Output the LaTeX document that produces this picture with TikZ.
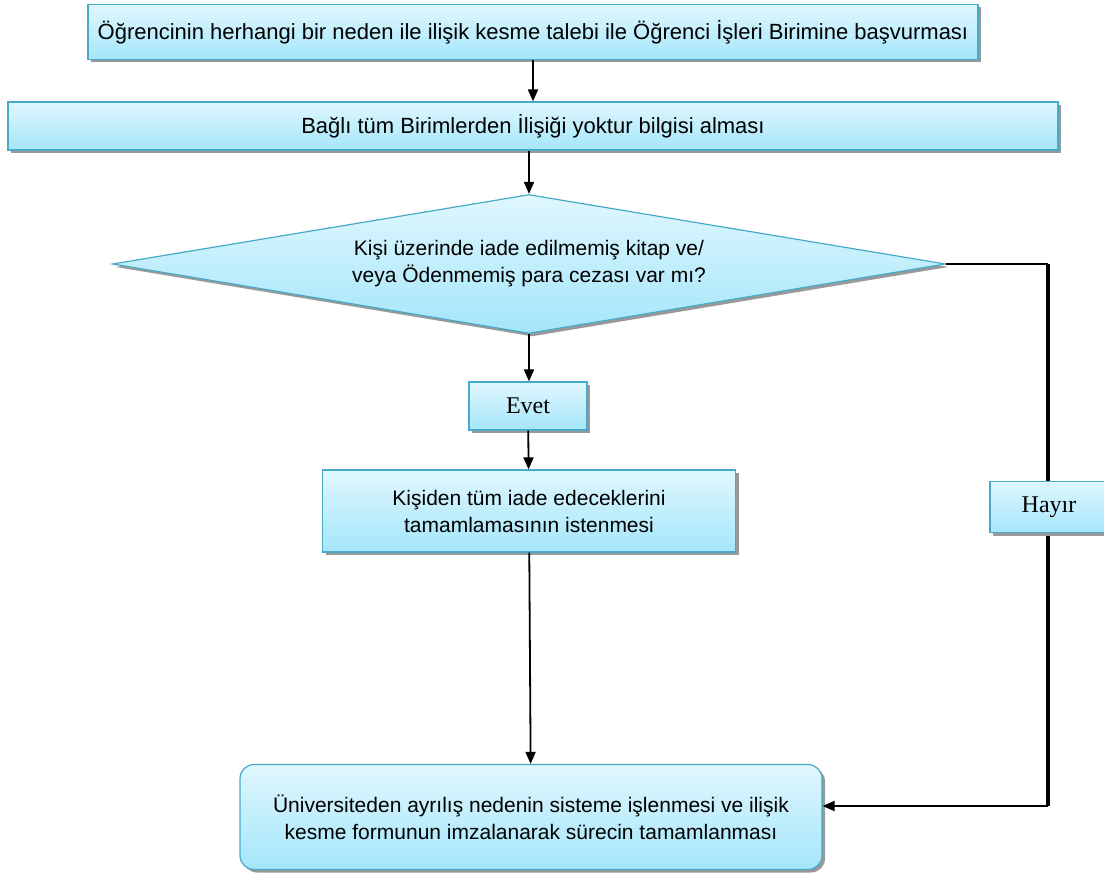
\documentclass[tikz,border=0pt]{standalone}
\usepackage{fontspec}
\setmainfont{Liberation Sans}
\newfontfamily\serifface{Liberation Serif}
\usetikzlibrary{shapes.geometric,shadows,arrows.meta}

\definecolor{boxtop}{HTML}{E0F7FE}
\definecolor{boxbot}{HTML}{A4E6FA}
\definecolor{boxedge}{HTML}{46AAC8}

\tikzset{
  fillbox/.style={draw=boxedge, line width=1.2pt, top color=boxtop, bottom color=boxbot,
    drop shadow={shadow xshift=3pt, shadow yshift=-3pt, fill=black!40, opacity=1},
    font=\fontsize{21}{27}\selectfont, align=center, inner sep=0pt},
  procbox/.style={fillbox, rectangle},
  decision/.style={fillbox, diamond, aspect=6},
  answer/.style={fillbox, rectangle, font=\serifface\fontsize{24}{26}\selectfont},
  endbox/.style={fillbox, rectangle, rounded corners=14pt},
  arrowline/.style={line width=1.8pt, -{Triangle[length=12pt,width=10pt]}}
}

\begin{document}
\begin{tikzpicture}[x=1pt, y=-1pt]
  \useasboundingbox (0,0) rectangle (1104,875);

  \node[procbox, minimum width=890, minimum height=55] (start) at (533,32)
    {\fontsize{22}{26}\selectfont Öğrencinin herhangi bir neden ile ilişik kesme talebi ile Öğrenci İşleri Birimine başvurması};
  \node[procbox, minimum width=1050, minimum height=48] (units) at (533,126)
    {\fontsize{22}{26}\selectfont Bağlı tüm Birimlerden İlişiği yoktur bilgisi alması};
  \node[decision, minimum width=833, minimum height=139] (check) at (529,264)
    {Kişi üzerinde iade edilmemiş kitap ve/\\veya Ödenmemiş para cezası var mı?};
  \node[answer, minimum width=118, minimum height=48] (yes) at (528,406) {Evet};
  \node[procbox, minimum width=413, minimum height=82] (ret) at (529,511)
    {Kişiden tüm iade edeceklerini\\tamamlamasının istenmesi};
  \node[endbox, minimum width=582, minimum height=105] (done) at (531,817)
    {Üniversiteden ayrılış nedenin sisteme işlenmesi ve ilişik\\kesme formunun imzalanarak sürecin tamamlanması};

  % main flow
  \draw[arrowline] (start) -- (units);
  \draw[arrowline] (units.south -| check.north) -- (check.north);
  \draw[arrowline] (check.south) -- (yes.north -| check.south);
  \draw[arrowline] (yes) -- (ret);
  \draw[arrowline] (ret) -- (done);

  % no branch
  \coordinate (back) at (1048,806);
  \coordinate (turn) at (check.east -| back);
  \draw[line width=1.8pt] (check.east) -- (turn);
  \draw[line width=4pt] (turn) -- (back);
  \draw[arrowline] (back) -- (done.east |- back);
  \node[answer, minimum width=118, minimum height=51] (no) at (1049,507) {Hayır};
\end{tikzpicture}
\end{document}
